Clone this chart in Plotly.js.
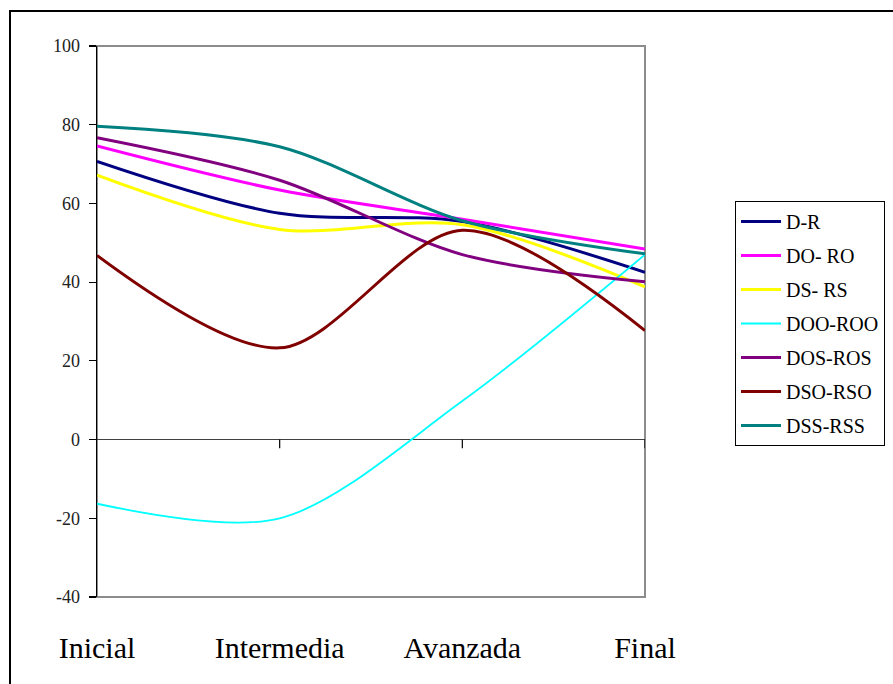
<!DOCTYPE html>
<html>
<head>
<meta charset="utf-8">
<script src="https://cdn.plot.ly/plotly-3.0.1.min.js"></script>
<style>
html,body{margin:0;padding:0;background:#fff;}
#chart{width:893px;height:684px;}
</style>
</head>
<body>
<div id="chart"></div>
<script>
var categories = ["Inicial", "Intermedia", "Avanzada", "Final"];
var seriesNames = ["D-R", "DO- RO", "DS- RS", "DOO-ROO", "DOS-ROS", "DSO-RSO", "DSS-RSS"];
var dR     = [70.7, 57.5, 55.4, 42.5];
var doRo   = [74.6, 63.4, 56.0, 48.4];
var dsRs   = [67.2, 53.4, 54.6, 38.8];
var dooRoo = [-16.3, -20.0, 9.8, 47.0];
var dosRos = [76.7, 65.9, 47.0, 40.1];
var dsoRso = [46.8, 23.3, 53.2, 27.7];
var dssRss = [79.6, 74.4, 55.6, 47.2];
var yTicks = [-40, -20, 0, 20, 40, 60, 80, 100];
var yTickText = ["-40", "-20", "0", "20", "40", "60", "80", "100"];

var seriesValues = [dR, doRo, dsRs, dooRoo, dosRos, dsoRso, dssRss];
var colors = ["#000080", "#FF00FF", "#FFFF00", "#00FFFF", "#800080", "#800000", "#008080"];
var widths = [3, 3, 3, 1.8, 3, 3, 3];
var xIdx = categories.map(function(c, i){ return i; });

var FONT = "Liberation Serif, Times New Roman, serif";

var traces = seriesValues.map(function(vals, i){
  return {
    x: xIdx, y: vals, name: seriesNames[i], type: 'scatter', mode: 'lines',
    line: {color: colors[i], width: widths[i], shape: 'spline', smoothing: 0.9},
    legendgroup: 'g' + i, hoverinfo: 'skip'
  };
});

var L = 97, R = 645, T = 46, B = 597, W = 893, H = 684;
function px2x(p){ return (p - L) / (R - L); }
function px2y(p){ return (B - p) / (B - T); }

var shapes = [
  {type:'rect', xref:'paper', yref:'paper', x0:0, x1:1, y0:0, y1:1,
   line:{color:'#8c8c8c', width:2}, layer:'below'},
  {type:'rect', xref:'paper', yref:'paper', x0:px2x(10), x1:px2x(905), y0:px2y(700), y1:px2y(11),
   line:{color:'#000', width:2}, layer:'above'}
];
xIdx.slice(1).forEach(function(i){
  shapes.push({type:'line', xref:'x', yref:'y', x0:i, x1:i, y0:0, y1:-2.2,
    line:{color:'#000', width:1.2}, layer:'above'});
});

var layout = {
  width: W, height: H,
  margin: {l: L, r: W - R, t: T, b: H - B, autoexpand: false},
  paper_bgcolor: '#fff', plot_bgcolor: '#fff',
  font: {family: FONT, color: '#000'},
  showlegend: true,
  xaxis: {
    range: [0, 3], tickvals: xIdx, ticktext: categories,
    showgrid: false, zeroline: false, showline: false,
    ticks: 'outside', ticklen: 24, tickcolor: 'rgba(0,0,0,0)',
    tickfont: {family: FONT, size: 30, color: '#000'}, fixedrange: true
  },
  yaxis: {
    range: [-40, 100], tickvals: yTicks, ticktext: yTickText, showgrid: false,
    zeroline: true, zerolinecolor: '#404040', zerolinewidth: 1.5,
    showline: true, linecolor: '#000', linewidth: 1.5,
    ticks: 'outside', ticklen: 7, tickcolor: '#000', tickwidth: 1.2,
    ticklabelstandoff: 5,
    tickfont: {family: FONT, size: 18, color: '#222'}, fixedrange: true
  },
  legend: {
    x: px2x(735), y: px2y(201), xanchor: 'left', yanchor: 'top',
    xref: 'paper', yref: 'paper',
    bgcolor: '#fff', bordercolor: '#000', borderwidth: 1,
    font: {family: FONT, size: 20, color: '#000'},
    traceorder: 'grouped', tracegroupgap: 5, itemwidth: 40
  },
  shapes: shapes
};

Plotly.newPlot('chart', traces, layout, {displayModeBar: false, staticPlot: true});
</script>
</body>
</html>
